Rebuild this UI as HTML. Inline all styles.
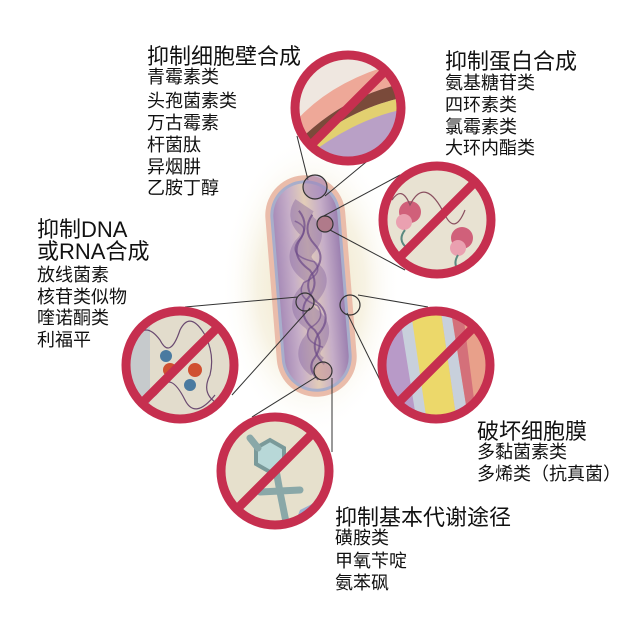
<!DOCTYPE html>
<html><head><meta charset="utf-8"><style>
html,body{margin:0;padding:0;background:#fff;}
body{width:640px;height:637px;position:relative;overflow:hidden;font-family:"Liberation Sans","Noto Sans CJK SC",sans-serif;color:#111;}
.t{position:absolute;white-space:nowrap;font-size:22px;line-height:22px;}
.i{position:absolute;white-space:nowrap;font-size:18px;line-height:22px;}
svg{position:absolute;left:0;top:0;}
</style></head><body>
<svg width="640" height="637" viewBox="0 0 640 637">
<defs>
<radialGradient id="glow" cx="50%" cy="50%" r="50%">
<stop offset="0" stop-color="#e9dcb0" stop-opacity="0.9"/>
<stop offset="0.6" stop-color="#efe6c8" stop-opacity="0.5"/>
<stop offset="1" stop-color="#fff" stop-opacity="0"/>
</radialGradient>
<linearGradient id="rodIn" x1="0" x2="1" y1="0" y2="0">
<stop offset="0" stop-color="#a88cb8"/>
<stop offset="0.25" stop-color="#c6aec8"/>
<stop offset="0.5" stop-color="#e3cdb8"/>
<stop offset="0.75" stop-color="#c6aec8"/>
<stop offset="1" stop-color="#9c80b0"/>
</linearGradient>
<clipPath id="c1"><circle cx="348" cy="108" r="52"/></clipPath>
<clipPath id="c2"><circle cx="437" cy="220" r="53"/></clipPath>
<clipPath id="c3"><circle cx="180" cy="365" r="53"/></clipPath>
<clipPath id="c4"><circle cx="436" cy="365" r="53"/></clipPath>
<clipPath id="c5"><circle cx="275" cy="471" r="53"/></clipPath>
</defs>
<ellipse cx="311" cy="286" rx="90" ry="150" fill="url(#glow)"/>
<g transform="rotate(-4.6 311 286)">
<rect x="271" y="175" width="80" height="222" rx="40" fill="#eabcaa"/>
<rect x="276" y="180" width="70" height="212" rx="35" fill="#a8aecb"/>
<rect x="279" y="183" width="64" height="206" rx="32" fill="url(#rodIn)"/>
<path d="M311 205 q-8 10 0 20 q10 10 -4 22 q-10 12 4 24 q12 10 -4 24 q-12 12 2 24 q12 12 -2 26 q-8 12 4 22" stroke="#8a6aa0" stroke-width="22" fill="none" opacity="0.45"/>
<path d="M305 210 q10 15 -2 30 q-10 15 8 30 q10 15 -6 30 q-10 15 6 30 q10 15 -4 30 q-6 10 4 20" stroke="#6b4888" stroke-width="2" fill="none" opacity="0.7"/>
<path d="M318 215 q-12 15 0 30 q12 15 -6 30 q-10 15 6 30 q12 15 -4 30 q-10 15 4 30" stroke="#6b4888" stroke-width="2" fill="none" opacity="0.7"/>
<path d="M300 220 q16 8 2 20 q-12 14 14 22 q10 12 -12 20 q-10 14 12 24 q8 14 -10 22 q-8 12 12 20" stroke="#6b4888" stroke-width="1.5" fill="none" opacity="0.6"/>
</g>
<g stroke="#333" stroke-width="1" fill="none">
<line x1="297" y1="136" x2="308" y2="180"/>
<line x1="377" y1="153" x2="325" y2="196"/>
<line x1="400" y1="175" x2="320" y2="218"/>
<line x1="405" y1="270" x2="330" y2="230"/>
<line x1="185" y1="307" x2="298" y2="297"/>
<line x1="232" y1="395" x2="310" y2="308"/>
<line x1="358" y1="295" x2="428" y2="307"/>
<line x1="347" y1="313" x2="380" y2="380"/>
<line x1="316" y1="377" x2="252" y2="417"/>
<line x1="332" y1="378" x2="332" y2="452"/>
</g>
<g stroke="#333" stroke-width="1.2" fill="none">
<circle cx="315" cy="187" r="12" fill="#9a7cb8" fill-opacity="0.5"/>
<circle cx="325" cy="224" r="8" fill="#b07a8a"/>
<circle cx="305" cy="302" r="9"/>
<circle cx="350" cy="305" r="10"/>
<circle cx="323" cy="371" r="9" fill="#c89a9a" fill-opacity="0.6"/>
</g>
<g clip-path="url(#c1)">
<rect x="290" y="50" width="120" height="120" fill="#b9a0c6"/>
<path d="M290 130 Q330 80 410 60 L410 50 L290 50Z" fill="#efe7e0"/>
<path d="M290 150 Q340 95 410 82 L410 60 Q330 78 290 128Z" fill="#eea898"/>
<path d="M290 160 Q345 108 410 96 L410 82 Q340 95 290 150Z" fill="#7a4a3a"/>
<path d="M290 170 Q350 118 410 108 L410 96 Q345 108 290 160Z" fill="#e2d070"/>
</g>
<g clip-path="url(#c2)">
<rect x="380" y="160" width="115" height="120" fill="#e8e2d2"/>
<circle cx="410" cy="212" r="11" fill="#d0607a"/>
<circle cx="404" cy="222" r="8" fill="#eaa0b0"/>
<circle cx="462" cy="238" r="11" fill="#d0607a"/>
<circle cx="458" cy="248" r="8" fill="#eaa0b0"/>
<path d="M405 230 q-8 10 2 18 q-10 8 0 18" stroke="#5a8a80" stroke-width="2" fill="none"/>
<path d="M458 255 q-6 10 2 16 q-8 6 0 14" stroke="#5a8a80" stroke-width="2" fill="none"/>
<path d="M392 200 q10 -15 18 5 q15 -30 35 10 q10 20 20 -5" stroke="#8a5060" stroke-width="1.2" fill="none"/>
</g>
<g clip-path="url(#c3)">
<rect x="120" y="305" width="120" height="120" fill="#e2dccc"/>
<rect x="120" y="305" width="30" height="120" fill="#a9b8cc" opacity="0.5"/>
<circle cx="166" cy="356" r="6" fill="#4a7aa0"/>
<circle cx="170" cy="370" r="7" fill="#d05030"/>
<circle cx="195" cy="370" r="7" fill="#d05030"/>
<circle cx="190" cy="385" r="6" fill="#4a7aa0"/>
<path d="M135 340 q10 -20 25 0 q10 20 20 -10 q10 -20 25 5 q10 20 5 40 q-10 20 10 30" stroke="#6a4a70" stroke-width="1.2" fill="none"/>
<path d="M130 390 q15 20 30 0 q10 -20 25 10 q10 20 30 -5" stroke="#6a4a70" stroke-width="1.2" fill="none"/>
</g>
<g clip-path="url(#c4)">
<rect x="380" y="305" width="120" height="120" fill="#e8a08a"/>
<polygon points="380,305 400,305 420,430 380,430" fill="#b89ac8"/>
<polygon points="398,305 418,305 440,430 418,430" fill="#c8d0dc"/>
<polygon points="410,305 440,305 458,430 428,430" fill="#ecd86a"/>
<polygon points="440,305 450,305 470,430 458,430" fill="#c8d0dc"/>
<polygon points="450,305 462,305 478,430 470,430" fill="#d4707a"/>
</g>
<g clip-path="url(#c5)">
<rect x="215" y="410" width="120" height="125" fill="#e6e0cc"/>
<polygon points="300,510 340,490 340,535 290,535" fill="#9ab0d0"/>
<polygon points="256,448 270,440 284,448 284,464 270,472 256,464" fill="#b8d8d8" stroke="#7a9a9a" stroke-width="4"/>
<path d="M250 438 l8 10 M276 470 l4 22 M260 492 l40 -2 M280 492 l6 30" stroke="#8aa8a8" stroke-width="7" stroke-linecap="round" fill="none"/>
</g>
<g stroke="#c62f4f" stroke-width="9" fill="none">
<circle cx="348" cy="108" r="53"/>
<line x1="385" y1="71" x2="311" y2="145"/>
<circle cx="437" cy="220" r="54"/>
<line x1="475" y1="182" x2="399" y2="258"/>
<circle cx="180" cy="365" r="54"/>
<line x1="218" y1="327" x2="142" y2="403"/>
<circle cx="436" cy="365" r="54"/>
<line x1="474" y1="327" x2="398" y2="403"/>
<circle cx="275" cy="471" r="54"/>
<line x1="313" y1="433" x2="237" y2="509"/>
</g>
</svg>

<div class="t" style="left:147px;top:46px;">抑制细胞壁合成</div>
<div class="i" style="left:147px;top:66px;">青霉素类</div>
<div class="i" style="left:147px;top:90px;">头孢菌素类</div>
<div class="i" style="left:147px;top:112px;">万古霉素</div>
<div class="i" style="left:147px;top:134px;">杆菌肽</div>
<div class="i" style="left:147px;top:156px;">异烟肼</div>
<div class="i" style="left:147px;top:177px;">乙胺丁醇</div>

<div class="t" style="left:445px;top:51px;">抑制蛋白合成</div>
<div class="i" style="left:445px;top:72px;">氨基糖苷类</div>
<div class="i" style="left:445px;top:94px;">四环素类</div>
<div class="i" style="left:445px;top:116px;">氯霉素类</div>
<div class="i" style="left:445px;top:137px;">大环内酯类</div>

<div class="t" style="left:37px;top:219px;">抑制DNA</div>
<div class="t" style="left:37px;top:241px;">或RNA合成</div>
<div class="i" style="left:37px;top:264px;">放线菌素</div>
<div class="i" style="left:37px;top:286px;">核苷类似物</div>
<div class="i" style="left:37px;top:307px;">喹诺酮类</div>
<div class="i" style="left:37px;top:329px;">利福平</div>

<div class="t" style="left:477px;top:421px;">破坏细胞膜</div>
<div class="i" style="left:477px;top:441px;">多黏菌素类</div>
<div class="i" style="left:477px;top:463px;">多烯类（抗真菌）</div>

<div class="t" style="left:335px;top:507px;">抑制基本代谢途径</div>
<div class="i" style="left:335px;top:527px;">磺胺类</div>
<div class="i" style="left:335px;top:550px;">甲氧苄啶</div>
<div class="i" style="left:335px;top:572px;">氨苯砜</div>
</body></html>
